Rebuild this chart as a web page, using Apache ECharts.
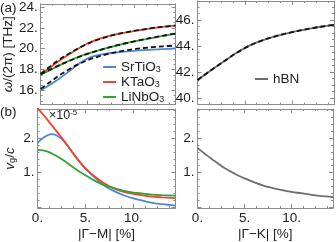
<!DOCTYPE html>
<html><head><meta charset="utf-8">
<script src="https://cdn.jsdelivr.net/npm/echarts@6/dist/echarts.min.js"></script>
<style>html,body{margin:0;padding:0;background:#fff}#c{width:336px;height:242px}</style>
</head><body><div id="c"></div>
<script>
// ---- data ----
const xPts = [0,1,2,3,4,5,6,7,8,9,10,11,12,13,14.4];
const srtio3Freq = [16.0,16.55,17.15,17.8,18.5,19.05,19.35,19.52,19.63,19.72,19.8,19.86,19.91,19.96,20.02];
const srtio3Fit  = [16.15,16.8,17.45,18.0,18.5,18.9,19.2,19.45,19.65,19.82,19.96,20.07,20.16,20.23,20.3];
const ktao3Freq  = [17.5,18.2,18.85,19.45,20.0,20.5,20.87,21.15,21.37,21.55,21.7,21.84,21.97,22.1,22.22];
const ktao3Fit   = [17.6,18.3,18.95,19.52,20.03,20.47,20.83,21.12,21.36,21.55,21.72,21.86,21.99,22.1,22.22];
const linbo3Freq = [17.5,17.95,18.4,18.82,19.2,19.52,19.8,20.05,20.28,20.5,20.7,20.88,21.05,21.22,21.45];
const linbo3Fit  = [17.55,18.0,18.42,18.82,19.18,19.5,19.79,20.05,20.29,20.5,20.7,20.89,21.07,21.24,21.45];
const hbnFreq    = [41.35,41.9,42.42,42.93,43.42,43.85,44.2,44.47,44.7,44.9,45.07,45.22,45.36,45.48,45.62];
const hbnFit     = [41.38,41.92,42.43,42.93,43.41,43.84,44.19,44.47,44.7,44.9,45.07,45.22,45.36,45.48,45.62];
const xVgBlue    = [0,0.5,1,1.5,2,2.5,3,4,5,6,7,8,9,10,11,12,13,14.4];
const srtio3Vg   = [1.86,1.99,2.08,2.12,2.08,1.98,1.83,1.46,1.12,0.85,0.62,0.46,0.34,0.25,0.18,0.12,0.08,0.04];
const ktao3Vg    = [2.88,2.55,2.2,1.84,1.45,1.12,0.88,0.68,0.53,0.44,0.38,0.34,0.3,0.28,0.26];
const linbo3Vg   = [1.66,1.62,1.48,1.3,1.1,0.92,0.76,0.63,0.55,0.47,0.42,0.39,0.36,0.345,0.33];
const hbnVg      = [1.72,1.5,1.3,1.11,0.96,0.83,0.72,0.62,0.55,0.49,0.44,0.4,0.36,0.32,0.29];
const names = ['SrTiO3','KTaO3','LiNbO3'];
// ---- styles ----
const FONT = "'Liberation Sans', Arial, sans-serif";
const TXT = '#222';
const FRAME = '#8c8c8c';
const C = {blue:'#4f86d6', red:'#f2452b', green:'#35a335', grey:'#6e6e6e'};

const pair = (xs, ys) => xs.map((x,i)=>[x, ys[i]]);
function fmt(step){ return v => (Math.abs(v/step - Math.round(v/step))<1e-6 && v!==0) ? (Math.round(v)+'.') : ''; }
function fmtX(v){ return (Math.abs(v/5 - Math.round(v/5))<1e-6) ? (Math.round(v)+'.') : ''; }

const grids = [
  {left:37.5, top:1, width:138, height:103.5},
  {left:197.5, top:1, width:136.5, height:103.5},
  {left:37.5, top:109, width:138, height:99.5},
  {left:197.5, top:109, width:136.5, height:99.5}
];
const yr = [[14.65,24.3],[39.5,47.46],[-0.03,2.85],[-0.03,2.85]];
const ySplit = [5,4,3,3];
const yMinor = [4,4,5,5];
const yStep = [2,2,1,1];
const xAxes = [], yAxes = [];
const common = (gi) => ({
  type:'value', gridIndex:gi, splitLine:{show:false},
  axisLine:{show:true, onZero:false, lineStyle:{color:FRAME, width:1}},
  axisTick:{show:true, inside:true, length:4, lineStyle:{color:FRAME}},
  minorTick:{show:true, length:2, lineStyle:{color:FRAME}}
});
for (let g=0; g<4; g++){
  const bottomLabels = g>=2;
  xAxes.push(Object.assign(common(g), {position:'bottom', min:0, max:14.4, splitNumber:3,
    minorTick:{show:true, splitNumber:4, length:2, lineStyle:{color:FRAME}},
    axisLabel:{show:bottomLabels, formatter:fmtX, margin:3, color:TXT, fontSize:13.5, fontFamily:FONT},
    name: g===2 ? '|Γ−M| [%]' : (g===3 ? '|Γ−K| [%]' : ''), nameLocation:'middle', nameGap:19,
    nameTextStyle:{color:TXT, fontSize:13.5, fontFamily:FONT}}));
  xAxes.push(Object.assign(common(g), {position:'top', min:0, max:14.4, splitNumber:3,
    minorTick:{show:true, splitNumber:4, length:2, lineStyle:{color:FRAME}},
    axisLabel:{show:false}}));
  yAxes.push(Object.assign(common(g), {position:'left', min:yr[g][0], max:yr[g][1], splitNumber:ySplit[g],
    minorTick:{show:true, splitNumber:yMinor[g], length:2, lineStyle:{color:FRAME}},
    axisLabel:{show:true, formatter:fmt(yStep[g]), margin:3, color:TXT, fontSize:13.5, fontFamily:FONT},
    name: g===0 ? '{i|ω}/(2π) [THz]' : (g===2 ? '{i|v}{s|g}/{i|c}' : ''), nameLocation:'middle', nameGap:20,
    nameTextStyle:{color:TXT, fontSize:13.5, fontFamily:FONT,
      rich:{i:{fontStyle:'italic', fontSize:13.5, fontFamily:FONT, color:TXT},
            s:{fontSize:9, fontFamily:FONT, color:TXT, padding:[6,0,0,0]}}}}));
  yAxes.push(Object.assign(common(g), {position:'right', min:yr[g][0], max:yr[g][1], splitNumber:ySplit[g],
    minorTick:{show:true, splitNumber:yMinor[g], length:2, lineStyle:{color:FRAME}},
    axisLabel:{show:false}}));
}

function line(name, g, data, color, dashed){
  return {type:'line', name:name, xAxisIndex:2*g, yAxisIndex:2*g, data:data,
    showSymbol:false, symbol:'none', smooth:0.35, silent:true, animation:false,
    z: dashed?5:3,
    itemStyle:{color: dashed ? '#111' : color},
    lineStyle: dashed ? {color:'#111', width:1.8, type:[5,3]} : {color:color, width:1.8}};
}
const series = [
  line('SrTiO3',0,pair(xPts,srtio3Freq),C.blue),
  line('KTaO3',0,pair(xPts,ktao3Freq),C.red),
  line('LiNbO3',0,pair(xPts,linbo3Freq),C.green),
  line('fit1',0,pair(xPts,srtio3Fit),null,true),
  line('fit2',0,pair(xPts,ktao3Fit),null,true),
  line('fit3',0,pair(xPts,linbo3Fit),null,true),
  line('hBN',1,pair(xPts,hbnFreq),C.grey),
  line('fit4',1,pair(xPts,hbnFit),null,true),
  line('SrTiO3',2,pair(xVgBlue,srtio3Vg),C.blue),
  line('KTaO3',2,pair(xPts,ktao3Vg),C.red),
  line('LiNbO3',2,pair(xPts,linbo3Vg),C.green),
  line('hBN',3,pair(xPts,hbnVg),C.grey)
];

const legTxt = {color:TXT, fontSize:13.5, fontFamily:FONT, lineHeight:12,
  rich:{s:{fontSize:9, fontFamily:FONT, color:TXT, lineHeight:12, padding:[5,0,0,0]}}};
const option = {
  animation:false,
  textStyle:{fontFamily:FONT},
  grid: grids,
  xAxis: xAxes, yAxis: yAxes,
  legend:[
    {data:names.map(n=>({name:n, icon:'rect'})), orient:'vertical', left:103, top:60, itemWidth:13, itemHeight:2,
     itemGap:1, padding:0, textStyle:legTxt, formatter:n=>n.replace('3','{s|3}'), selectedMode:false},
    {data:[{name:'hBN', icon:'rect'}], left:255, top:72, padding:0, itemWidth:13, itemHeight:2, textStyle:legTxt, selectedMode:false}
  ],
  graphic:[
    {type:'text', left:0, top:1, style:{text:'(a)', fill:TXT, font:'13.5px '+FONT}},
    {type:'text', left:0, top:105, style:{text:'(b)', fill:TXT, font:'13.5px '+FONT}},
    {type:'text', left:49, top:109, style:{text:'×10{p|-5}', fill:TXT, font:'12.5px '+FONT,
      rich:{p:{fontSize:8, fontFamily:FONT, fill:TXT, padding:[0,0,6,0]}}}}
  ],
  series: series
};
const chart = echarts.init(document.getElementById('c'), null, {renderer:'canvas'});
chart.setOption(option);
</script></body></html>
